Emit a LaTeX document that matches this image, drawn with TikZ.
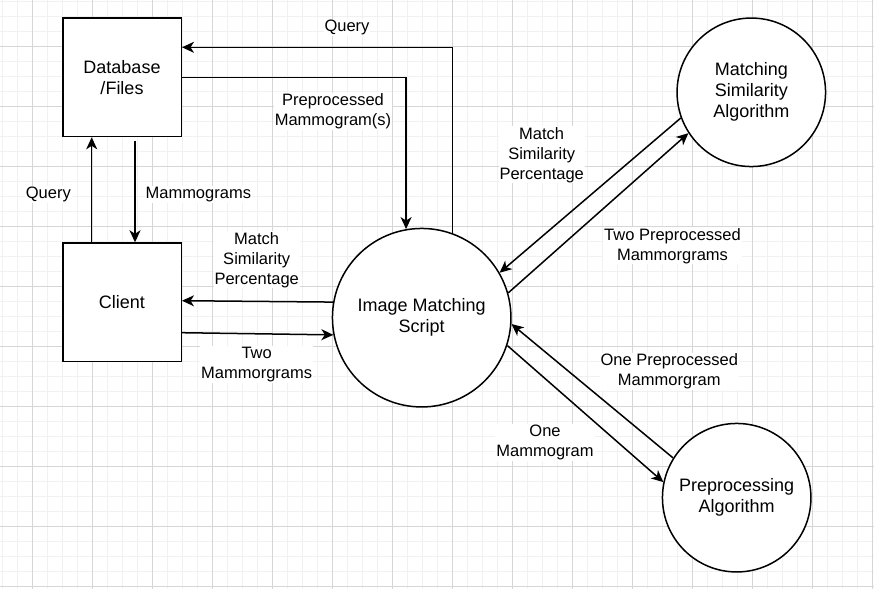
\documentclass[tikz,border=0pt]{standalone}
\usepackage{fontspec}
\setmainfont{Liberation Sans}
\usetikzlibrary{arrows.meta}
\definecolor{gridminor}{HTML}{F1F1F1}
\definecolor{gridmajor}{HTML}{D6D6D6}
\begin{document}
\begin{tikzpicture}[x=1pt,y=-1pt,
  boxnode/.style={draw=black,line width=1.5pt,minimum width=118.5pt,minimum height=118.5pt,inner sep=0pt,align=center,font=\fontsize{18}{21}\selectfont},
  bigcirc/.style={draw=black,fill=white,circle,line width=1.5pt,minimum size=178.5pt,inner sep=0pt,align=center,font=\fontsize{18}{21}\selectfont},
  smallcirc/.style={draw=black,fill=white,circle,line width=1.5pt,minimum size=148.5pt,inner sep=0pt,align=center,font=\fontsize{18}{21}\selectfont},
  arr/.style={line width=1.5pt,-{Stealth[length=12pt,width=11pt,inset=3.5pt]}},
  elabel/.style={fill=white,inner sep=1pt,align=center,font=\fontsize{16.5}{20}\selectfont,yshift=-1.5pt},
  minorline/.style={draw=gridminor,line width=1pt},
  majorline/.style={draw=gridmajor,line width=1pt}]
\useasboundingbox (0,0) rectangle (874,589);
\fill[white] (0,0) rectangle (874,589);
% grid
\foreach \x in {2,17,...,872} {\draw[minorline] (\x,0) -- (\x,589);}
\foreach \y in {1.7,16.7,...,588} {\draw[minorline] (0,\y) -- (874,\y);}
\foreach \x in {32,92,...,872} {\draw[majorline] (\x,0) -- (\x,589);}
\foreach \y in {46.7,106.7,...,588} {\draw[majorline] (0,\y) -- (874,\y);}
% nodes
\node[boxnode,fill=white] (db) at (122,77.3) {Database\\/Files};
\node[boxnode,fill=white] (cl) at (122,302.3) {Client};
\node[bigcirc] (ims) at (421.7,317.7) {Image Matching\\Script};
\node[smallcirc] (msa) at (751.3,92.3) {Matching\\Similarity\\Algorithm};
\node[smallcirc] (pa) at (736.7,497.7) {Preprocessing\\Algorithm};
% connectors
\draw[arr] (ims.70.5) |- ([yshift=30pt]db.east);
\draw[arr] (db.east) -| (ims.100.2);
\draw[arr] ([xshift=-30.3pt]cl.north) -- ([xshift=-30.3pt]db.south);
\draw[arr] ([xshift=13pt,yshift=-3.5pt]db.south) -- ([xshift=13pt]cl.north);
\draw[arr] (ims.170.4) -- ([yshift=1.6pt]cl.east);
\draw[arr] ([yshift=-30.4pt]cl.east) -- (ims.191.5);
\draw[arr] (msa.200.3) -- (ims.30.8);
\draw[arr] (ims.16.5) -- (msa.213.1);
\draw[arr] (pa.148.8) -- (ims.-4.6);
\draw[arr] (ims.-18.3) -- (pa.168);
% labels
\node[elabel] (lq1) at (347,25.7) {Query};
\node[elabel] (lpm) at (333,110) {Preprocessed\\Mammogram(s)};
\node[elabel] (lq2) at (48.3,193.3) {Query};
\node[elabel] (lmm) at (198.3,193.3) {Mammograms};
\node[elabel] (lms1) at (256.7,258.3) {Match\\Similarity\\Percentage};
\node[elabel] (ltm) at (256.7,363.3) {Two\\Mammorgrams};
\node[elabel] (lms2) at (541.7,153.3) {Match\\Similarity\\Percentage};
\node[elabel] (ltp) at (672.5,244.3) {Two Preprocessed\\Mammorgrams};
\node[elabel] (lop) at (669.3,370) {One Preprocessed\\Mammorgram};
\node[elabel] (lom) at (545,441) {One\\Mammogram};
\end{tikzpicture}
\end{document}
